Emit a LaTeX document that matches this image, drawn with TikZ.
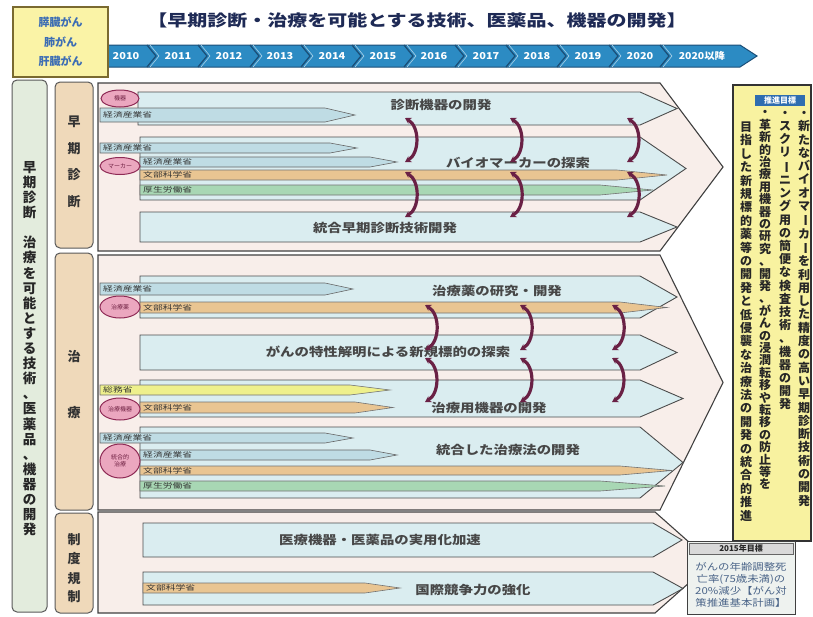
\documentclass[tikz,border=0pt]{standalone}
\usepackage{fontspec}
\setmainfont{Noto Sans CJK JP}
\usepackage{graphicx}
\usetikzlibrary{arrows.meta,shapes.geometric}
\definecolor{bandblue}{HTML}{2C8BC3}
\definecolor{banddark}{HTML}{1B4F78}
\definecolor{ylw}{HTML}{FAF3A6}
\definecolor{ylwdark}{HTML}{7A6A30}
\definecolor{cancerblue}{HTML}{3C6DB4}
\definecolor{pnl}{HTML}{E3ECDD}
\definecolor{secfill}{HTML}{EFD9BA}
\definecolor{outerfill}{HTML}{F8EEEA}
\definecolor{barfill}{HTML}{DAEDF0}
\definecolor{tblue}{HTML}{BFDCE4}
\definecolor{torange}{HTML}{E9C592}
\definecolor{tgreen}{HTML}{A8D7B4}
\definecolor{tyellow}{HTML}{EEF08C}
\definecolor{ovalfill}{HTML}{EBA7BF}
\definecolor{ovaldraw}{HTML}{8E2A55}
\definecolor{arrowc}{HTML}{6A2145}
\definecolor{titlec}{HTML}{1E2A55}
\definecolor{goalylw}{HTML}{F8F2A0}
\definecolor{headblue}{HTML}{2F6DB0}
\definecolor{goalfill}{HTML}{EEF2EF}
\definecolor{targetblue}{HTML}{4A6488}

\ExplSyntaxOn
\NewDocumentCommand\vt{O{1.05em}m}
 {
  \vbox{\offinterlineskip
    \tl_map_inline:nn {#2}
     {
      \hbox_to_wd:nn {1.1em}
       {
        \hss
        \vrule height \dimexpr #1/2+.38em\relax depth \dimexpr #1/2-.38em\relax width 0pt
        \str_case:nnF {##1}
         {
          {ー}{\rotatebox[origin=c]{-90}{ー}}
         }
         {##1}
        \hss
       }
     }
  }
 }
\ExplSyntaxOff

\newcommand\hstretch[2]{\scalebox{#1}[1]{#2}}
\newcommand\shp[6]{\path[#1] (#2,#3) -- (#5,#3) -- (#6,{(#3+#4)/2}) -- (#5,#4) -- (#2,#4) -- cycle;}

\begin{document}
\begin{tikzpicture}[x=1pt,y=-1pt,
  year/.style={font=\bfseries\fontsize{9.5}{9.5}\selectfont, text=white, inner sep=0},
  secbox/.style={draw=black!65, fill=secfill, line width=1, rounded corners=5, minimum width=38, inner sep=0},
  secch/.style={font=\bfseries\fontsize{13}{13}\selectfont, text=black!80, inner sep=0},
  outer/.style={fill=outerfill, draw=black!75, line width=1.1},
  inner/.style={fill=barfill, draw=black!70, line width=0.9},
  pbB/.style={fill=tblue, draw=black!60, line width=0.6},
  pbO/.style={fill=torange, draw=black!55, line width=0.6},
  pbG/.style={fill=tgreen, draw=black!55, line width=0.6},
  pbY/.style={fill=tyellow, draw=black!55, line width=0.6},
  tiny/.style={font=\fontsize{7}{7}\selectfont, text=black!80, anchor=west, inner sep=0},
  oval/.style={ellipse, fill=ovalfill, draw=ovaldraw, line width=1, minimum width=38, inner sep=0, font=\fontsize{6}{7}\selectfont, text=ovaldraw!80!black, align=center},
  lbl/.style={font=\bfseries\fontsize{12}{12}\selectfont, text=black!72, inner sep=0},
  curv/.style={draw=arrowc, line width=3.2, {Stealth[length=6pt,width=7pt]}-{Stealth[length=6pt,width=7pt]}},
  vcol/.style={anchor=north, inner sep=0, font=\bfseries\fontsize{12}{12}\selectfont, text=black!85},
  ttxt/.style={font=\fontsize{9.5}{9.5}\selectfont, text=targetblue, inner sep=0}
]
\useasboundingbox (0,0) rectangle (813,616);
\fill[white] (0,0) rectangle (813,616);

% timeline band
\path[fill=bandblue, draw=banddark, line width=1] (100,45) -- (740,45) -- (757,56) -- (740,67) -- (100,67) -- cycle;
\foreach \s in {152,203,255,306,357,409,460,511,562,614,665} {
  \draw[banddark, line width=1.3] (\s-5,45) -- (\s+4,56) -- (\s-5,67);
  \draw[bandblue!40!white, line width=0.6] (\s-2,45) -- (\s+7,56) -- (\s-2,67);
}
\foreach \yr/\xx in {2010/126,2011/178,2012/229,2013/280,2014/332,2015/383,2016/434,2017/486,2018/537,2019/588,2020/640} {
  \node[year, name=y\yr] at (\xx,56) {\hstretch{1.15}{\yr}};
}
\node[year, name=ylater] at (702,56) {\hstretch{1.1}{2020以降}};

% cancers box
\node[name=cancers, draw=ylwdark, fill=ylw, line width=1.6, minimum width=95, minimum height=70, inner sep=0, align=center, font=\bfseries\fontsize{11}{19.5}\selectfont, text=cancerblue] at (60.5,42) {膵臓がん\\肺がん\\肝臓がん};

% title
\node[name=title, font=\bfseries\fontsize{16}{16}\selectfont, text=titlec, inner sep=0] at (417,20) {\hstretch{1.25}{【早期診断・治療を可能とする技術、医薬品、機器の開発】}};

% left panel
\node[name=lpanel, draw=black!65, fill=pnl, line width=1, rounded corners=5, minimum width=35, minimum height=532, inner sep=0] at (29.5,346) {};
\node[name=lpaneltext, anchor=north, inner sep=0, font=\bfseries\fontsize{13.5}{13.5}\selectfont, text=black!85] at (29.5,159.5) {\vt[15.1pt]{早期診断　治療を可能とする技術、医薬品、機器の開発}};

% section boxes
\node[name=secA, secbox, minimum height=166] at (74,165) {};
\node[name=secB, secbox, minimum height=257] at (74,381.5) {};
\node[name=secC, secbox, minimum height=100] at (74,563) {};
\node[secch, name=sA1] at (74,122) {早};
\node[secch, name=sA2] at (74,149) {期};
\node[secch, name=sA3] at (74,175) {診};
\node[secch, name=sA4] at (74,202) {断};
\node[secch, name=sB1] at (74,357) {治};
\node[secch, name=sB2] at (74,413) {療};
\node[secch, name=sC1] at (74,540) {制};
\node[secch, name=sC2] at (74,559) {度};
\node[secch, name=sC3] at (74,579) {規};
\node[secch, name=sC4] at (74,597) {制};

% outer chevrons
\shp{outer}{98}{83}{251}{660}{723}
\shp{outer}{98}{255}{510}{660}{723}
\shp{outer}{98}{512}{613}{655}{712}

% inner bars
\shp{inner}{138}{92}{125}{640}{677}
\shp{inner}{140}{137}{200}{640}{686}
\shp{inner}{140}{212}{242}{640}{677}
\shp{inner}{140}{276}{318}{640}{677}
\shp{inner}{140}{335}{370}{640}{677}
\shp{inner}{140}{380}{417}{640}{683}
\shp{inner}{140}{427}{498}{640}{683}
\shp{inner}{143}{523}{557}{653}{682}
\shp{inner}{143}{572}{605}{653}{683}

% thin bars
\shp{pbB}{100}{108}{122}{325}{355}
\shp{pbB}{100}{143}{153}{330}{357}
\shp{pbB}{140}{157}{167}{370}{397}
\shp{pbO}{140}{170}{180}{617}{667}
\shp{pbG}{140}{185}{195}{600}{653}
\shp{pbB}{100}{283}{295}{325}{353}
\shp{pbO}{140}{302}{313}{620}{667}
\shp{pbY}{100}{385}{395}{350}{390}
\shp{pbO}{140}{402}{413}{355}{393}
\shp{pbB}{100}{433}{443}{325}{353}
\shp{pbB}{140}{450}{460}{370}{397}
\shp{pbO}{140}{466}{475}{620}{672}
\shp{pbG}{140}{481}{491}{600}{665}
\shp{pbO}{143}{583}{593}{365}{400}

\node[tiny, name=lT1] at (103,115) {\hstretch{1.4}{経済産業省}};
\node[tiny, name=lT2] at (103,148) {\hstretch{1.4}{経済産業省}};
\node[tiny, name=lT3] at (143,162) {\hstretch{1.4}{経済産業省}};
\node[tiny, name=lT4] at (143,175) {\hstretch{1.4}{文部科学省}};
\node[tiny, name=lT5] at (143,190) {\hstretch{1.4}{厚生労働省}};
\node[tiny, name=lU1] at (103,289) {\hstretch{1.4}{経済産業省}};
\node[tiny, name=lU2] at (143,307.5) {\hstretch{1.4}{文部科学省}};
\node[tiny, name=lU3] at (103,390) {\hstretch{1.4}{総務省}};
\node[tiny, name=lU4] at (143,407.5) {\hstretch{1.4}{文部科学省}};
\node[tiny, name=lU5] at (103,438) {\hstretch{1.4}{経済産業省}};
\node[tiny, name=lU6] at (143,455) {\hstretch{1.4}{経済産業省}};
\node[tiny, name=lU7] at (143,470.5) {\hstretch{1.4}{文部科学省}};
\node[tiny, name=lU8] at (143,486) {\hstretch{1.4}{厚生労働省}};
\node[tiny, name=lV1] at (146,588) {\hstretch{1.4}{文部科学省}};

% ovals
\node[oval, name=O1, minimum height=17] at (120,98.5) {機器};
\node[oval, name=O2, minimum height=17, minimum width=40] at (120,166) {マーカー};
\node[oval, name=O3, minimum height=22, minimum width=40] at (120,307) {治療薬};
\node[oval, name=O4, minimum height=22, minimum width=40] at (120,409) {治療機器};
\node[oval, name=O5, minimum height=34, minimum width=40] at (120,461) {統合的\\治療};

% bar labels
\node[lbl, name=bA1] at (441,105) {\hstretch{1.2}{診断機器の開発}};
\node[lbl, name=bA2] at (518,163) {\hstretch{1.2}{バイオマーカーの探索}};
\node[lbl, name=bA3] at (385,228) {\hstretch{1.2}{統合早期診断技術開発}};
\node[lbl, name=bB1] at (497,291) {\hstretch{1.2}{治療薬の研究・開発}};
\node[lbl, name=bB2] at (388,352) {\hstretch{1.2}{がんの特性解明による新規標的の探索}};
\node[lbl, name=bB3] at (489,408) {\hstretch{1.2}{治療用機器の開発}};
\node[lbl, name=bB4] at (508,450) {\hstretch{1.2}{統合した治療法の開発}};
\node[lbl, name=bC1] at (380,540) {\hstretch{1.2}{医療機器・医薬品の実用化加速}};
\node[lbl, name=bC2] at (473,590) {\hstretch{1.2}{国際競争力の強化}};

% curved arrows
\foreach \xx [count=\i] in {405,510,627} {
  \coordinate (au\i) at (\xx,118);
  \coordinate (av\i) at (\xx,162);
  \coordinate (aw\i) at (\xx,172);
  \coordinate (ax\i) at (\xx,217);
  \draw[curv] (au\i) to[bend left=60] (av\i);
  \draw[curv] (aw\i) to[bend left=60] (ax\i);
}
\foreach \xx [count=\i] in {425,520,612} {
  \coordinate (bu\i) at (\xx,305);
  \coordinate (bv\i) at (\xx,350);
  \coordinate (bw\i) at (\xx,358);
  \coordinate (bx\i) at (\xx,402);
  \draw[curv] (bu\i) to[bend left=60] (bv\i);
  \draw[curv] (bw\i) to[bend left=60] (bx\i);
}

% right goals box
\node[name=goals, draw=black!80, fill=goalylw, line width=1.2, minimum width=78, minimum height=456, inner sep=0] at (772,313) {};
\node[name=goalshead, fill=headblue, text=white, font=\bfseries\fontsize{8}{8}\selectfont, minimum width=50, minimum height=11, inner sep=0] at (780,100) {推進目標};
\node[vcol, name=g1] at (804,106) {\vt[13.3pt]{・新たなバイオマーカーを利用した精度の高い早期診断技術の開発}};
\node[vcol, name=g2] at (785,106) {\vt[13.2pt]{・スクリーニング用の簡便な検査技術、機器の開発}};
\node[vcol, name=g3] at (765,106) {\vt[12.4pt]{・革新的治療用機器の研究、開発、がんの浸潤転移や転移の防止等を}};
\node[vcol, name=g4] at (746,120) {\vt[13.4pt]{目指した新規標的薬等の開発と低侵襲な治療法の開発の統合的推進}};

% bottom-right target box
\node[name=target, draw=black!75, fill=goalfill, line width=1, minimum width=108, minimum height=73, inner sep=0] at (741,577.5) {};
\node[name=targethead, draw=black!60, fill=black!15, minimum width=104, minimum height=11, inner sep=0, font=\bfseries\fontsize{8}{8}\selectfont, text=black!85] at (741,548.5) {2015年目標};
\node[ttxt, name=tt1] at (741,567) {\hstretch{1.2}{がんの年齢調整死}};
\node[ttxt, name=tt2] at (741,579) {\hstretch{1.2}{亡率(75歳未満)の}};
\node[ttxt, name=tt3] at (741,591) {\hstretch{1.2}{20\%減少【がん対}};
\node[ttxt, name=tt4] at (741,603) {\hstretch{1.2}{策推進基本計画】}};
\end{tikzpicture}
\end{document}
